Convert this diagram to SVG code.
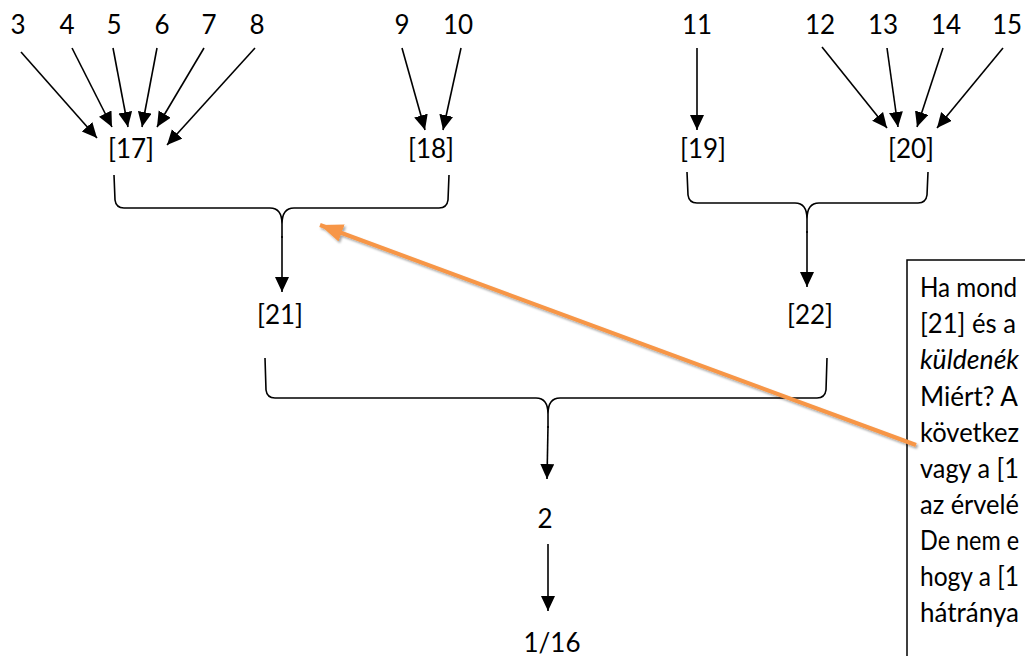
<svg xmlns="http://www.w3.org/2000/svg" width="1025" height="656" viewBox="0 0 1025 656">
<style>
text{font-family:Lato,"Liberation Sans",sans-serif;font-size:26px;fill:#000}
.lbl{text-anchor:middle}
.c{fill:none;stroke:#000;stroke-width:1.6}
.a{fill:none;stroke:#000;stroke-width:1.6;marker-end:url(#ah)}
.box{fill:#fff;stroke:#000;stroke-width:1.5}
.bt{font-size:27px}
</style>
<defs>
<marker id="ah" markerUnits="userSpaceOnUse" markerWidth="16" markerHeight="15" refX="15" refY="7" orient="auto">
<path d="M0,0 L15,7 L0,14 z" fill="#000"/>
</marker>
<marker id="oh" markerUnits="userSpaceOnUse" markerWidth="24" markerHeight="18" refX="23" refY="9" orient="auto">
<path d="M0,0 L23,9 L0,18 z" fill="#F79646"/>
</marker>
<filter id="sh" x="-10%" y="-10%" width="120%" height="130%">
<feDropShadow dx="1.5" dy="2" stdDeviation="1.2" flood-color="#000" flood-opacity="0.35"/>
</filter>
</defs>
<g id="n3"><text class="lbl" x="18" y="34">3</text></g>
<g id="n4"><text class="lbl" x="67" y="34">4</text></g>
<g id="n5"><text class="lbl" x="114" y="34">5</text></g>
<g id="n6"><text class="lbl" x="162" y="34">6</text></g>
<g id="n7"><text class="lbl" x="209" y="34">7</text></g>
<g id="n8"><text class="lbl" x="257" y="34">8</text></g>
<g id="n9"><text class="lbl" x="402" y="34">9</text></g>
<g id="n10"><text class="lbl" x="458" y="34">10</text></g>
<g id="n11"><text class="lbl" x="697" y="34">11</text></g>
<g id="n12"><text class="lbl" x="820" y="34">12</text></g>
<g id="n13"><text class="lbl" x="883" y="34">13</text></g>
<g id="n14"><text class="lbl" x="946" y="34">14</text></g>
<g id="n15"><text class="lbl" x="1007" y="34">15</text></g>
<g id="n17"><text class="lbl" x="131" y="158">[17]</text></g>
<g id="n18"><text class="lbl" x="431" y="158">[18]</text></g>
<g id="n19"><text class="lbl" x="703" y="158">[19]</text></g>
<g id="n20"><text class="lbl" x="911" y="158">[20]</text></g>
<g id="n21"><text class="lbl" x="280" y="324">[21]</text></g>
<g id="n22"><text class="lbl" x="810" y="324">[22]</text></g>
<g id="n2"><text class="lbl" x="545" y="528">2</text></g>
<g id="n116"><text class="lbl" x="552" y="652">1/16</text></g>
<g id="connectors">
<line class="a" x1="21" y1="52" x2="97" y2="138"/>
<line class="a" x1="72" y1="48" x2="112" y2="127"/>
<line class="a" x1="113" y1="48" x2="128" y2="127"/>
<line class="a" x1="157" y1="48" x2="142" y2="127"/>
<line class="a" x1="204" y1="48" x2="157" y2="127"/>
<line class="a" x1="255" y1="48" x2="167" y2="145"/>
<line class="a" x1="402" y1="48" x2="425" y2="130"/>
<line class="a" x1="461" y1="48" x2="443" y2="130"/>
<line class="a" x1="697" y1="48" x2="697" y2="130"/>
<line class="a" x1="822" y1="47" x2="887" y2="128"/>
<line class="a" x1="887" y1="48" x2="898" y2="127"/>
<line class="a" x1="943" y1="48" x2="917" y2="127"/>
<line class="a" x1="1003" y1="48" x2="937" y2="128"/>
<path class="c" d="M114,175 L115,200 Q116,208 124,208 L270,208 Q282,208 282,224 L282,238 M449,175 L448,200 Q447,208 439,208 L294,208 Q282,208 282,224"/>
<line class="a" x1="282" y1="236" x2="282" y2="292"/>
<path class="c" d="M687,172 L688,195 Q689,203 697,203 L795,203 Q807,203 807,219 L807,233 M928,172 L927,195 Q926,203 918,203 L819,203 Q807,203 807,219"/>
<line class="a" x1="807" y1="231" x2="807" y2="287"/>
<path class="c" d="M265,358 L266,390 Q267,398 275,398 L536,398 Q548,398 548,414 L548,428 M827,358 L826,390 Q825,398 817,398 L560,398 Q548,398 548,414"/>
<line class="a" x1="548" y1="426" x2="547" y2="479"/>
<line class="a" x1="548" y1="544" x2="548" y2="611"/>
</g>
<g id="note">
<rect class="box" x="907" y="260" width="140" height="420"/>
<text class="bt" x="920" y="297" textLength="97" lengthAdjust="spacingAndGlyphs">Ha mond</text>
<text class="bt" x="920" y="333" textLength="96" lengthAdjust="spacingAndGlyphs">[21] és a</text>
<text class="bt" x="920" y="369" font-style="italic" textLength="99" lengthAdjust="spacingAndGlyphs">küldenék</text>
<text class="bt" x="920" y="406" textLength="98" lengthAdjust="spacingAndGlyphs">Miért? A</text>
<text class="bt" x="920" y="442" textLength="99" lengthAdjust="spacingAndGlyphs">következ</text>
<text class="bt" x="920" y="478" textLength="99" lengthAdjust="spacingAndGlyphs">vagy a [1</text>
<text class="bt" x="920" y="514" textLength="99" lengthAdjust="spacingAndGlyphs">az érvelé</text>
<text class="bt" x="920" y="550" textLength="99" lengthAdjust="spacingAndGlyphs">De nem e</text>
<text class="bt" x="920" y="586" textLength="99" lengthAdjust="spacingAndGlyphs">hogy a [1</text>
<text class="bt" x="920" y="622" textLength="99" lengthAdjust="spacingAndGlyphs">hátránya</text>
</g>
<g id="orange-connector">
<line x1="916" y1="445" x2="320" y2="225" stroke="#F79646" stroke-width="4" marker-end="url(#oh)" filter="url(#sh)"/>
</g>
</svg>
